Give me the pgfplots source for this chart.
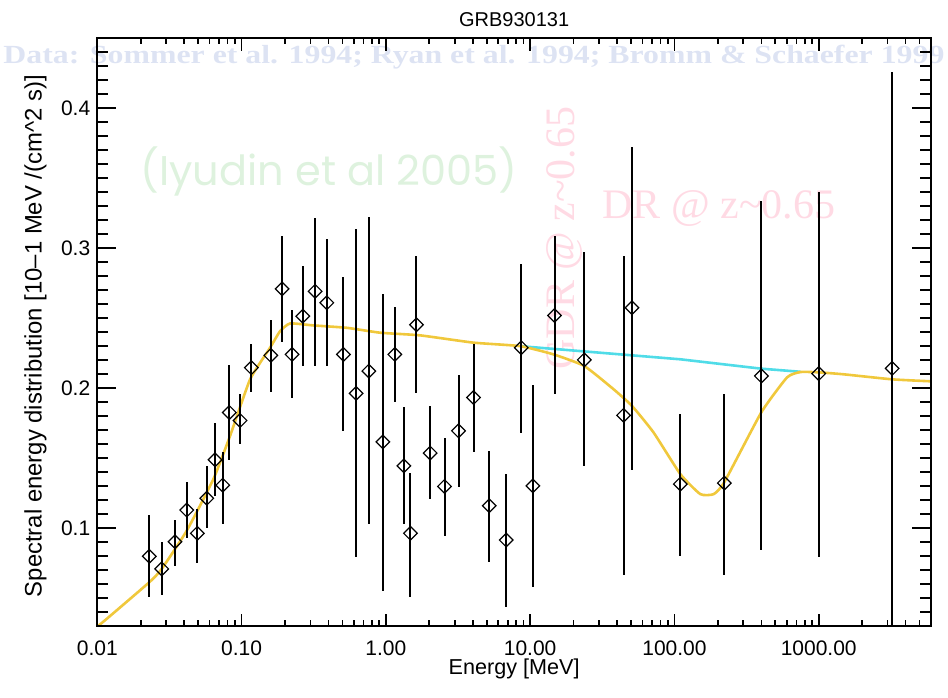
\documentclass[border=0pt]{standalone}
\usepackage{pgfplots}
\pgfplotsset{compat=1.18}
\usepackage{pgfplotstable}
\usepackage{fontspec}
\setmainfont{Liberation Sans}
\newfontfamily\timesfont{Liberation Serif}
\newfontfamily\comicfont{Poppins}
\definecolor{curveyellow}{RGB}{240,200,60}
\definecolor{curvecyan}{RGB}{80,220,232}
\definecolor{datablue}{RGB}{221,227,243}
\definecolor{palegreen}{RGB}{222,242,222}
\definecolor{palepink}{RGB}{255,218,228}

\pgfplotstableread{
E V EP EM
0.02294 0.0798 0.0295 0.0292
0.02796 0.0708 0.0190 0.0186
0.03458 0.0902 0.0155 0.0171
0.04169 0.1128 0.0198 0.0199
0.04937 0.0962 0.0173 0.0214
0.05738 0.1212 0.0228 0.0214
0.06549 0.1487 0.0261 0.0257
0.07406 0.1306 0.0234 0.0277
0.08229 0.1825 0.0339 0.0338
0.09763 0.1768 0.0187 0.0169
0.1169 0.2145 0.0171 0.0171
0.1594 0.2233 0.0252 0.0262
0.1910 0.2708 0.0375 0.0377
0.2239 0.2240 0.0314 0.0313
0.2657 0.2513 0.0357 0.0358
0.3234 0.2691 0.0526 0.0536
0.3898 0.2609 0.0458 0.0454
0.5082 0.2240 0.0551 0.0546
0.6222 0.1962 0.1174 0.1171
0.7622 0.2121 0.1103 0.1092
0.9533 0.1615 0.1060 0.1062
1.154 0.2240 0.0340 0.0340
1.333 0.1444 0.0423 0.0415
1.481 0.0962 0.0430 0.0452
1.630 0.2452 0.0489 0.0490
2.028 0.1535 0.0337 0.0328
2.549 0.1297 0.0349 0.0356
3.188 0.1694 0.0399 0.0404
4.051 0.1932 0.0384 0.0392
5.204 0.1159 0.0392 0.0399
6.828 0.0914 0.0471 0.0475
8.676 0.2288 0.0599 0.0611
10.45 0.1301 0.0720 0.0724
14.76 0.2518 0.0565 0.0558
23.73 0.2201 0.0768 0.0761
44.44 0.1805 0.1136 0.1140
50.81 0.2573 0.1145 0.1157
109.9 0.1314 0.0499 0.0511
221.8 0.1321 0.0634 0.0656
400.6 0.2086 0.1247 0.1241
1000 0.2103 0.1297 0.1312
3228 0.2140 0.2117 0.2140
}\points

\pgfplotstableread{
E V
0.0100 0.0296
0.01162 0.0351
0.02296 0.0613
0.02796 0.0708
0.04169 0.0981
0.06375 0.1349
0.08322 0.1658
0.1146 0.2062
0.1576 0.2288
0.1849 0.2406
0.2169 0.2461
0.3148 0.2447
0.5364 0.2430
0.913 0.2395
1.729 0.2376
4.05 0.2324
8.54 0.2299
14.53 0.2240
23.73 0.2157
37.88 0.1991
50.8 0.1872
71.7 0.1682
109.9 0.1385
151.2 0.1242
187 0.1242
221.8 0.1328
400.6 0.1827
603.6 0.2076
746.7 0.2114
995 0.2112
1484 0.2098
3228 0.2062
5953 0.2048
}\model

\pgfplotstableread{
E V
8.54 0.2299
30.6 0.2252
110 0.2205
400.6 0.2138
746.7 0.2116
}\cont

\begin{document}
\begin{tikzpicture}
\useasboundingbox (0,0) rectangle (474pt,-348.5pt);
% overlay annotations (pixel units, y downward)
\begin{scope}[x=0.5pt,y=-0.5pt]
\node[anchor=base west, inner sep=0pt, text=datablue] at (3,63)
  {\resizebox{470.5pt}{9.2pt}{\timesfont\bfseries Data: Sommer et al. 1994; Ryan et al. 1994; Bromm \& Schaefer 1999}};
\node[anchor=base west, inner sep=0pt, text=palegreen] at (140,185)
  {\resizebox{188.5pt}{!}{\comicfont (Iyudin et al 2005)}};
\node[anchor=base west, inner sep=0pt, text=palepink] at (602,218)
  {\resizebox{116.5pt}{!}{\timesfont DR @ z\textasciitilde 0.65}};
\node[anchor=base west, inner sep=0pt, text=palepink, rotate=90] at (574,370)
  {\resizebox{131.5pt}{!}{\timesfont GDR @ z\textasciitilde 0.65}};
\end{scope}

% axis with data and x ticks
\begin{axis}[
  at={(48.65pt,-313pt)}, anchor=south west,
  scale only axis, width=416.85pt, height=294pt,
  xmode=log, xmin=0.01, xmax=6000, ymin=0.03, ymax=0.45,
  xtick={0.01,0.1,1,10,100,1000},
  xticklabels={0.01,0.10,1.00,10.00,100.00,1000.00},
  minor xtick={0.02,0.03,0.04,0.05,0.06,0.07,0.08,0.09,0.2,0.3,0.4,0.5,0.6,0.7,0.8,0.9,2,3,4,5,6,7,8,9,20,30,40,50,60,70,80,90,200,300,400,500,600,700,800,900,2000,3000,4000,5000},
  ytick=\empty,
  xtick pos=both,
  tick align=inside,
  major tick length=6.25pt, minor tick length=3pt,
  every tick/.style={black, line width=0.8pt},
  axis line style={line width=0.8pt},
  /pgf/number format/assume math mode=true,
  xticklabel style={font=\fontsize{10.5}{12}\selectfont, anchor=base, yshift=-14.5pt},
  title={GRB930131},
  title style={at={(0.5,1)}, anchor=base, font=\fontsize{10}{12}\selectfont},
  xlabel={Energy [MeV]},
  xlabel style={at={(0.5,0)}, anchor=base, yshift=-24pt, font=\fontsize{10.8}{12}\selectfont},
  ylabel={\resizebox{261pt}{!}{Spectral energy distribution [10--1 MeV /(cm\textasciicircum 2 s)]}},
  ylabel style={at={(-0.0667,0.493)}, anchor=base, rotate=0},
]
\addplot[curvecyan, line width=1.3pt] table[x=E,y=V]{\cont};
\addplot[curveyellow, line width=1.3pt, smooth, tension=0.3] table[x=E,y=V]{\model};
\addplot[only marks, mark=square, mark size=2.4pt,
  mark options={rotate=45, line width=0.6pt, black, fill=none},
  error bars/.cd, y dir=both, y explicit, error mark=none,
  error bar style={line width=1pt, black}]
  table[x=E, y=V, y error plus=EP, y error minus=EM]{\points};
\end{axis}

% axis with y ticks only
\begin{axis}[
  at={(48.65pt,-313pt)}, anchor=south west,
  scale only axis, width=416.85pt, height=294pt,
  xmin=0, xmax=1, ymin=0.03, ymax=0.45,
  xtick=\empty,
  ytick={0.1,0.2,0.3,0.4},
  yticklabels={0.1,0.2,0.3,0.4},
  minor ytick={0.04,0.05,0.06,0.07,0.08,0.09,0.11,0.12,0.13,0.14,0.15,0.16,0.17,0.18,0.19,0.21,0.22,0.23,0.24,0.25,0.26,0.27,0.28,0.29,0.31,0.32,0.33,0.34,0.35,0.36,0.37,0.38,0.39,0.41,0.42,0.43,0.44},
  ytick pos=both,
  tick align=inside,
  major tick length=9.5pt, minor tick length=5.5pt,
  every tick/.style={black, line width=0.8pt},
  axis line style={line width=0.8pt},
  /pgf/number format/assume math mode=true,
  yticklabel style={font=\fontsize{10.5}{12}\selectfont},
]
\end{axis}
\end{tikzpicture}
\end{document}
